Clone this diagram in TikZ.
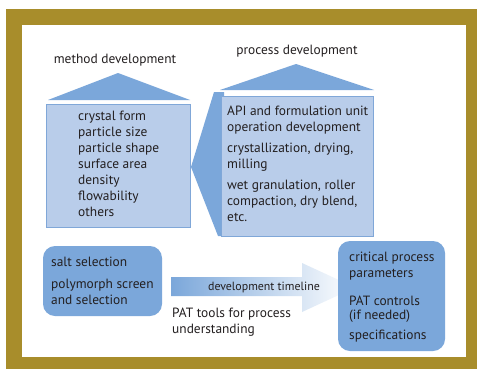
\documentclass[tikz,border=0pt]{standalone}
\usepackage{fontspec}
\setmainfont{PT Sans}
\usetikzlibrary{positioning, shapes.geometric}
\definecolor{framegold}{RGB}{168, 141, 43}
\definecolor{lightblue}{RGB}{185, 205, 234}
\definecolor{edgeblue}{RGB}{128, 167, 216}
\definecolor{darkblue}{RGB}{123, 167, 218}
\definecolor{inkgray}{RGB}{35, 31, 32}

\begin{document}
\begin{tikzpicture}[x=1pt, y=-1pt, font=\fontsize{13.4}{16}\selectfont, text=inkgray,
    listbox/.style={draw=edgeblue, fill=lightblue, line width=1pt},
    roundbox/.style={fill=darkblue, rounded corners=12pt},
    roof/.style={fill=darkblue},
    label/.style={anchor=west, align=left, inner sep=0pt}]
        \useasboundingbox (0,0) rectangle (478,369);
        % Frame
        \fill[framegold] (6,9) rectangle (477,369);
        \fill[white] (22,25) rectangle (466,357);
        
        % Method development
        \node[inner sep=0pt] (methodtitle) at (115,60) {method development};
        \fill[roof] (48,100) -- (118,73) -- (190,100) -- cycle;
        \node[listbox, minimum width=144pt, minimum height=123pt, inner sep=0pt] (methodbox) at (118,165.5) {};
        \node[label] (methodlist) at (78,164) {crystal form\\particle size\\particle shape\\surface area\\density\\flowability\\others};
        
        % Process development
        \node[inner sep=0pt] (processtitle) at (297,51) {process development};
        \fill[roof] (220,90) -- (296,64) -- (374,90) -- cycle;
        \fill[roof] (214,92) -- (191,167) -- (218,236) -- (224,236) -- (224,92) -- cycle;
        \node[listbox, minimum width=152pt, minimum height=140pt, inner sep=0pt] (processbox) at (297,166) {};
        \node[label] (processlist) at (227,164) {API and formulation unit\\operation development\\[5pt]crystallization, drying,\\milling\\[5pt]wet granulation, roller\\compaction, dry blend,\\etc.};
        
        % Early stage
        \node[roundbox, minimum width=119pt, minimum height=70pt] (saltbox) at (102.5,281) {};
        \node[label] (saltlist) at (51,281) {salt selection\\[6pt]polymorph screen\\and selection};
        
        % Timeline
        \shade[left color=darkblue, right color=white] (171,277) -- (302,277) -- (302,263) -- (355,287.5) -- (302,312) -- (302,296) -- (171,296) -- cycle;
        \node[font=\fontsize{11.9}{14}\selectfont, inner sep=0pt] (timeline) at (264,287) {development timeline};
        \node[label, anchor=north west] (pattools) at (172,308) {PAT tools for process\\understanding};
        
        % Late stage
        \node[roundbox, minimum width=107pt, minimum height=110pt] (controlbox) at (391.5,296) {};
        \node[label] (controllist) at (349,297) {critical process\\parameters\\[12pt]PAT controls\\[-2pt](if needed)\\[4pt]specifications};
        
    \end{tikzpicture}
\end{document}
